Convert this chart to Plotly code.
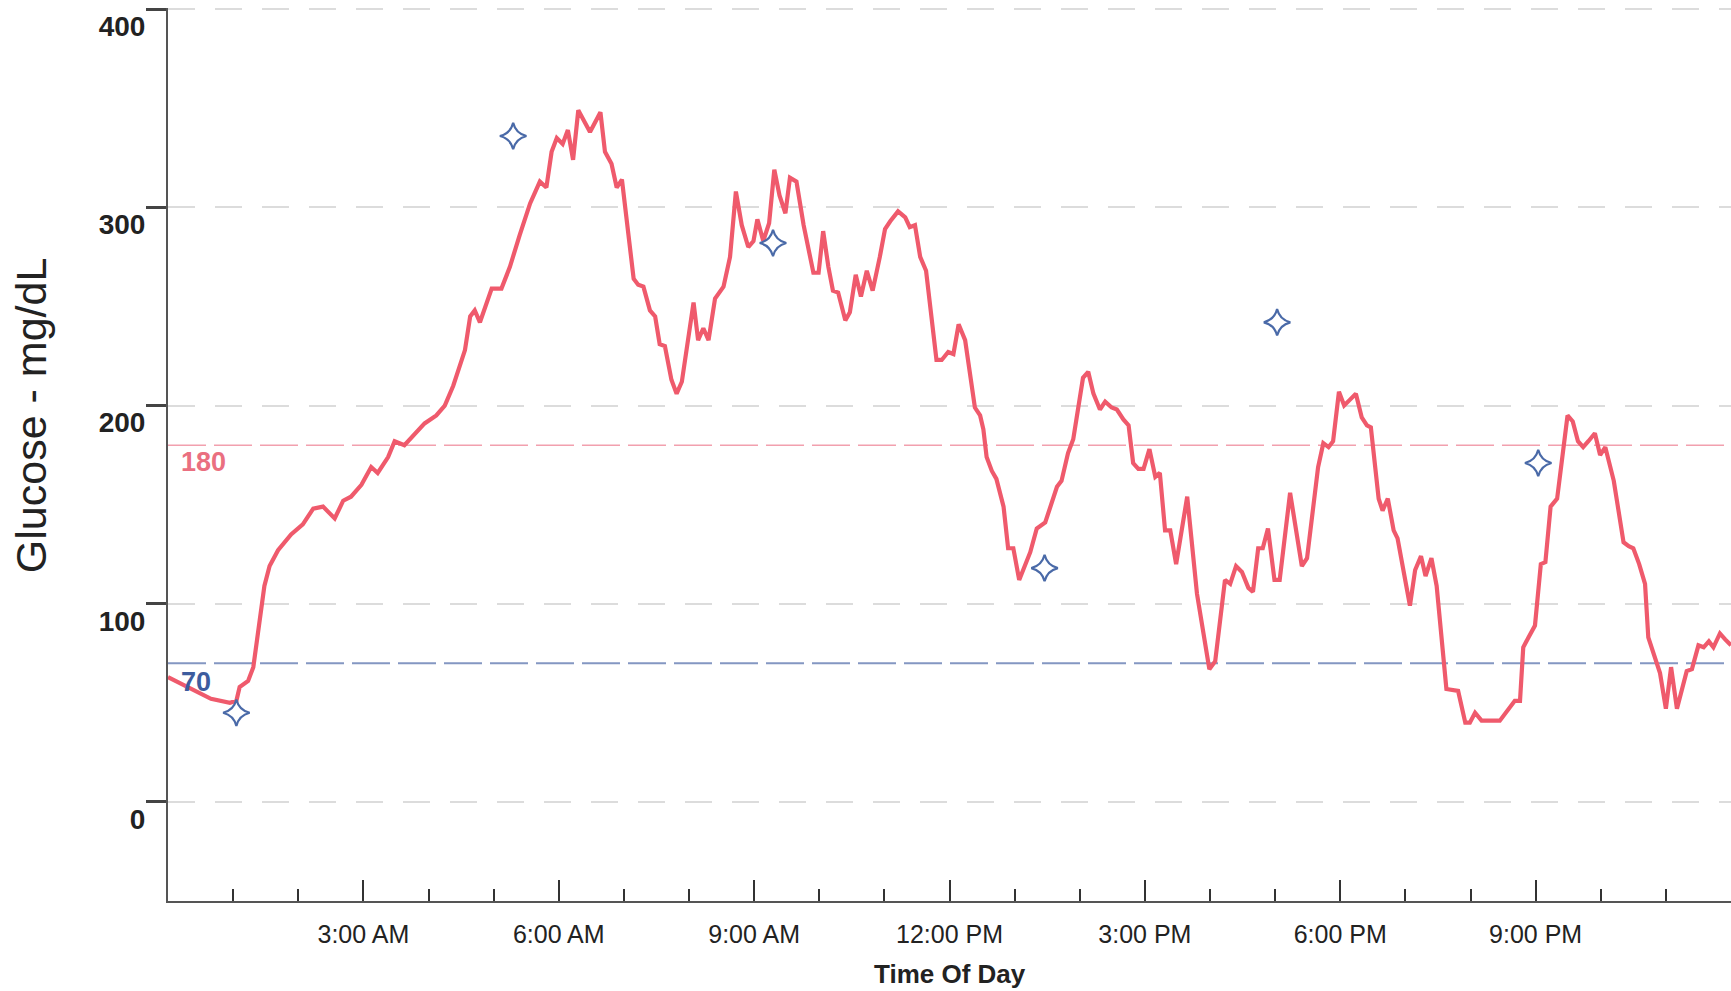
import plotly.graph_objects as go

# Sensor glucose trace over one day (hour of day, mg/dL)
hours = [
    0.00, 0.31, 0.66, 0.95, 1.05, 1.10, 1.23, 1.31, 1.38, 1.48, 1.56, 1.69, 1.89,
    2.07, 2.23, 2.38, 2.56, 2.69, 2.81, 2.97, 3.12, 3.22, 3.38, 3.48, 3.63, 3.79,
    3.94, 4.12, 4.25, 4.38, 4.56, 4.64, 4.71, 4.79, 4.97, 5.12, 5.25, 5.40, 5.56,
    5.71, 5.81, 5.89, 5.97, 6.06, 6.14, 6.22, 6.30, 6.48, 6.64, 6.71, 6.81, 6.89,
    6.97, 7.15, 7.22, 7.30, 7.40, 7.48, 7.55, 7.63, 7.73, 7.81, 7.89, 8.07, 8.14,
    8.22, 8.30, 8.40, 8.53, 8.63, 8.72, 8.81, 8.91, 8.99, 9.05, 9.14, 9.23, 9.31,
    9.39, 9.48, 9.55, 9.65, 9.76, 9.91, 9.99, 10.06, 10.14, 10.21, 10.29, 10.40,
    10.47, 10.56, 10.64, 10.73, 10.82, 10.93, 11.01, 11.09, 11.21, 11.32, 11.39,
    11.47, 11.55, 11.64, 11.80, 11.88, 11.98, 12.06, 12.14, 12.24, 12.39, 12.47,
    12.52, 12.57, 12.65, 12.72, 12.83, 12.90, 12.98, 13.07, 13.24, 13.34, 13.47,
    13.65, 13.72, 13.82, 13.90, 14.05, 14.13, 14.21, 14.31, 14.39, 14.49, 14.57,
    14.67, 14.75, 14.82, 14.90, 14.98, 15.07, 15.16, 15.23, 15.31, 15.39, 15.48,
    15.65, 15.80, 15.99, 16.08, 16.23, 16.31, 16.40, 16.49, 16.59, 16.66, 16.74,
    16.81, 16.89, 16.99, 17.07, 17.23, 17.41, 17.49, 17.66, 17.74, 17.82, 17.89,
    17.98, 18.06, 18.15, 18.24, 18.33, 18.41, 18.47, 18.59, 18.65, 18.73, 18.82,
    18.88, 19.07, 19.15, 19.24, 19.31, 19.40, 19.48, 19.63, 19.81, 19.92, 19.99,
    20.07, 20.17, 20.45, 20.58, 20.68, 20.76, 20.81, 20.89, 20.99, 21.08, 21.15,
    21.23, 21.33, 21.49, 21.57, 21.65, 21.73, 21.81, 21.91, 21.99, 22.07, 22.20,
    22.35, 22.43, 22.50, 22.59, 22.68, 22.73, 22.84, 22.91, 23.00, 23.08, 23.17,
    23.32, 23.40, 23.50, 23.58, 23.66, 23.73, 23.83, 23.91, 24.00,
]
glucose = [
    63, 58, 52, 50, 51, 58, 61, 68, 84, 109, 119, 127, 135,
    140, 148, 149, 143, 152, 154, 160, 169, 166, 174, 182, 180, 186,
    191, 195, 200, 210, 228, 245, 248, 242, 259, 259, 270, 286, 302,
    313, 310, 328, 335, 332, 339, 324, 349, 338, 348, 328, 322, 310,
    314, 264, 261, 260, 248, 245, 231, 230, 213, 206, 212, 252, 233,
    239, 233, 254, 260, 275, 308, 291, 280, 283, 294, 283, 292, 319,
    306, 297, 315, 313, 291, 267, 267, 288, 270, 258, 257, 243,
    247, 266, 255, 268, 258, 275, 289, 293, 298, 295, 290,
    291, 275, 268, 223, 223, 227, 226, 241, 233, 199, 195,
    188, 174, 167, 163, 149, 128, 128, 112, 126, 138, 141,
    159, 162, 176, 183, 214, 217, 206, 198, 202, 199, 198,
    193, 190, 171, 168, 168, 178, 164, 166, 137, 137, 120,
    154, 105, 67, 71, 112, 110, 119, 116, 108, 106, 128,
    128, 138, 112, 112, 156, 119, 123, 169, 181, 179, 182,
    207, 200, 203, 206, 194, 190, 189, 153, 147, 153, 137,
    133, 99, 117, 124, 114, 123, 109, 57, 56, 40, 40,
    45, 41, 41, 47, 51, 51, 78, 83, 89, 120, 121,
    149, 153, 195, 192, 182, 179, 182, 186, 175, 179, 162,
    131, 129, 128, 120, 110, 83, 72, 65, 47, 68, 47,
    66, 67, 79, 78, 81, 78, 85, 82, 79,
]

# Logged event markers (hour of day, mg/dL)
event_hours = [1.05, 5.30, 9.29, 13.46, 17.03, 21.04]
event_values = [45, 336, 282, 118, 242, 171]

# Target range limits
HIGH_LIMIT = 180
LOW_LIMIT = 70

tick_hours = [3, 6, 9, 12, 15, 18, 21]
tick_text = ["3:00 AM", "6:00 AM", "9:00 AM", "12:00 PM", "3:00 PM", "6:00 PM", "9:00 PM"]
y_ticks = [0, 100, 200, 300, 400]

FONT = "Liberation Sans, Arial, sans-serif"

fig = go.Figure()

# limit lines
fig.add_trace(go.Scatter(
    x=[0, 24], y=[HIGH_LIMIT, HIGH_LIMIT], mode="lines",
    line=dict(color="#f2a0ae", width=1.6, dash="38px,8px"),
    hoverinfo="skip",
))
fig.add_trace(go.Scatter(
    x=[0, 24], y=[LOW_LIMIT, LOW_LIMIT], mode="lines",
    line=dict(color="#8497c2", width=2, dash="38px,8px"),
    hoverinfo="skip",
))

fig.add_trace(go.Scatter(
    x=hours, y=glucose, mode="lines",
    line=dict(color="#ef5a6c", width=4.2),
    name="Glucose",
))

fig.add_trace(go.Scatter(
    x=event_hours, y=event_values, mode="markers",
    marker=dict(symbol="star-diamond-open", size=19, color="#4a6aa8",
                line=dict(width=2.2, color="#4a6aa8")),
    name="Events",
))

fig.add_annotation(
    x=0, y=HIGH_LIMIT, xref="x", yref="y", text=f"<b>{HIGH_LIMIT}</b>",
    showarrow=False, xanchor="left", yanchor="middle", xshift=11, yshift=-17,
    font=dict(family=FONT, size=27, color="#ea6f80"),
)
fig.add_annotation(
    x=0, y=LOW_LIMIT, xref="x", yref="y", text=f"<b>{LOW_LIMIT}</b>",
    showarrow=False, xanchor="left", yanchor="middle", xshift=11, yshift=-19,
    font=dict(family=FONT, size=27, color="#3d5c9e"),
)

# axis titles
fig.add_annotation(
    x=-0.0877, y=0.544, xref="paper", yref="paper", text="Glucose - mg/dL",
    showarrow=False, textangle=-90, xanchor="center", yanchor="middle",
    font=dict(family=FONT, size=43, color="#222222"),
)
fig.add_annotation(
    x=0.5, y=-0.082, xref="paper", yref="paper", text="<b>Time Of Day</b>",
    showarrow=False, xanchor="center", yanchor="middle",
    font=dict(family=FONT, size=26, color="#222222"),
)

fig.update_xaxes(
    range=[0, 24],
    tickvals=tick_hours, ticktext=tick_text,
    ticks="inside", ticklen=21, tickwidth=1.5, tickcolor="#333333",
    minor=dict(dtick=1, tick0=0, ticks="inside", ticklen=12, tickwidth=1.5,
               tickcolor="#333333", showgrid=False),
    showgrid=False, zeroline=False,
    showline=True, linecolor="#555555", linewidth=2,
    tickfont=dict(family=FONT, size=25, color="#222222"),
    ticklabelstandoff=10,
)
fig.update_yaxes(
    range=[-50, 400.6],
    tickvals=y_ticks,
    ticks="outside", ticklen=20, tickwidth=3, tickcolor="#444444",
    showgrid=True, gridcolor="#dcdcdc", gridwidth=2, griddash="27px,20px",
    zeroline=False,
    showline=True, linecolor="#555555", linewidth=2,
    tickfont=dict(family=FONT, size=28, color="#222222", weight="bold"),
    ticklabelshift=17, ticklabelstandoff=-5,
)

fig.update_layout(
    width=1731, height=991,
    margin=dict(l=168, r=0, t=8, b=90),
    plot_bgcolor="white", paper_bgcolor="white",
    showlegend=False,
    font=dict(family=FONT),
)

fig.write_html("out.html")
